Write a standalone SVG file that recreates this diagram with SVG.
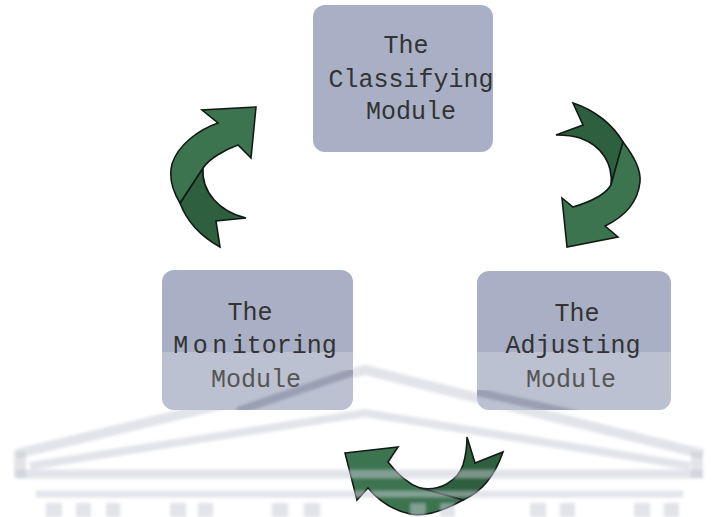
<svg xmlns="http://www.w3.org/2000/svg" width="717" height="517" viewBox="0 0 717 517">
<defs>
<style>
.box{fill:#a9b0c5}
.lit{fill:#ffffff;opacity:0.22}
.streak{fill:none;stroke:#6f7890;stroke-opacity:0.45;stroke-width:8;stroke-linecap:round}
.lbl{font-family:"Liberation Mono","Courier New",monospace;font-size:25px;fill:#333333;text-anchor:middle}
.lbl2{fill:#555555}
.ga{fill:#3d7450;stroke:#121a14;stroke-width:1.6;stroke-linejoin:miter}
.gb{fill:#2e5f3e;stroke:#121a14;stroke-width:1.6;stroke-linejoin:miter}
.wm{fill:none;stroke:#c6cad6;stroke-opacity:0.5}
.col{fill:#c6cad6;fill-opacity:0.5}
</style>
<clipPath id="cm"><rect x="162" y="270" width="191" height="140" rx="12"/></clipPath>
<clipPath id="ca"><rect x="477" y="271" width="194" height="139" rx="12"/></clipPath>
<mask id="nobox" maskUnits="userSpaceOnUse" x="0" y="0" width="717" height="517">
<rect width="717" height="517" fill="#fff"/>
<rect x="162" y="270" width="191" height="140" rx="12" fill="#000"/>
<rect x="477" y="271" width="194" height="139" rx="12" fill="#000"/>
</mask>
<filter id="soft" x="-5%" y="-5%" width="110%" height="110%"><feGaussianBlur stdDeviation="1.8"/></filter>
</defs>
<rect width="717" height="517" fill="#ffffff"/>

<g id="node-classifying">
<rect class="box" x="313" y="5" width="180" height="147" rx="12"/>
<text class="lbl" x="406" y="53">The</text>
<text class="lbl" x="411" y="87">Classifying</text>
<text class="lbl" x="411" y="119">Module</text>
</g>

<g id="node-monitoring">
<rect class="box" x="162" y="270" width="191" height="140" rx="12"/>
<g clip-path="url(#cm)">
<rect class="lit" x="162" y="352" width="191" height="60"/>
<path class="streak" d="M240,410 L353,372" filter="url(#soft)"/>
</g>
<text class="lbl" x="250" y="320">The</text>
<text class="lbl" x="255" y="353" word-spacing="-10.5">M o n itoring</text>
<text class="lbl lbl2" x="256" y="387">Module</text>
</g>

<g id="node-adjusting">
<rect class="box" x="477" y="271" width="194" height="139" rx="12"/>
<g clip-path="url(#ca)">
<rect class="lit" x="477" y="352" width="194" height="60"/>
<path class="streak" d="M477,392 L575,414" filter="url(#soft)"/>
</g>
<text class="lbl" x="577" y="321">The</text>
<text class="lbl" x="573" y="353">Adjusting</text>
<text class="lbl lbl2" x="571" y="387">Module</text>
</g>

<g id="connectors">
<g id="arrow-monitoring-to-classifying">
<path class="gb" d="M203,168 C201,192 220,212 246,218 L216,221 L220,247 C202,237 187,222 180,203 Z"/>
<path class="ga" d="M256,107 L251,158 L238,145 C224,150 209,159 203,168 L180,203 C172,190 169,176 172,164 C178,145 198,130 218,123 L202,110 Z"/>
</g>
<g id="arrow-classifying-to-adjusting">
<path class="gb" d="M573,103 C595,110 613,125 623,142 L611,185 C613,165 603,146 580,138 C571,135 563,135 556,135 L583,125 Z"/>
<path class="ga" d="M623,142 C635,158 641,170 640,182 C638,200 628,215 605,226 L618,237 L567,247 L562,198 L573,207 C590,202 605,195 611,185 Z"/>
</g>
<g id="arrow-adjusting-to-monitoring">
<path class="gb" d="M420,488 C440,492 458,480 463,465 C466,455 467,445 467,437 L475,463 L503,452 C495,475 482,492 463,500 Z"/>
<path class="ga" d="M345,453 L398,447 L388,462 C398,475 408,484 420,488 L463,500 C445,510 425,517 410,514 C392,510 378,500 368,488 L357,500 Z"/>
</g>
</g>

<g id="watermark" mask="url(#nobox)">
<g filter="url(#soft)">
<polyline class="wm" stroke-width="10" points="16,454 365,370 703,454"/>
<polyline class="wm" stroke-width="8" points="30,466 365,413 690,466"/>
<path class="wm" stroke-width="12" d="M20,452 V478 M697,452 V478"/>
<line class="wm" stroke-width="9" x1="16" y1="474" x2="703" y2="474"/>
<line class="wm" stroke-width="7" x1="36" y1="494" x2="683" y2="494"/>
<rect class="col" x="46" y="503" width="16" height="14"/>
<rect class="col" x="76" y="503" width="15" height="14"/>
<rect class="col" x="106" y="503" width="14" height="14"/>
<rect class="col" x="170" y="503" width="16" height="14"/>
<rect class="col" x="198" y="503" width="15" height="14"/>
<rect class="col" x="272" y="503" width="16" height="14"/>
<rect class="col" x="304" y="503" width="16" height="14"/>
<rect class="col" x="410" y="503" width="16" height="14"/>
<rect class="col" x="440" y="503" width="15" height="14"/>
<rect class="col" x="530" y="503" width="16" height="14"/>
<rect class="col" x="560" y="503" width="15" height="14"/>
<rect class="col" x="634" y="503" width="16" height="14"/>
<rect class="col" x="664" y="503" width="15" height="14"/>
</g>
</g>
</svg>
